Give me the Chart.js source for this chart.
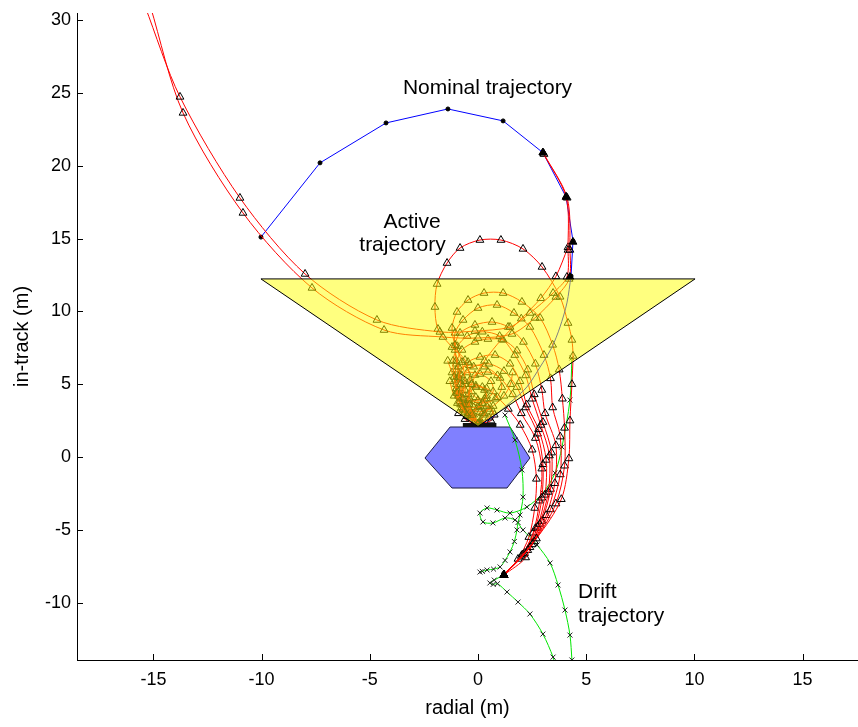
<!DOCTYPE html>
<html>
<head>
<meta charset="utf-8">
<script src="https://cdn.jsdelivr.net/npm/chart.js@4.4.0/dist/chart.umd.min.js"></script>
<style>
    html, body { margin: 0; padding: 0; background: #fff; overflow: hidden; }
    canvas { display: block; }
</style>
</head>
<body>
<canvas id="myChart" width="858" height="727"></canvas>
<script>
const xTicks = [-15, -10, -5, 0, 5, 10, 15];
const yTicks = [-10, -5, 0, 5, 10, 15, 20, 25, 30];

// approach cone, target body and docking port
const cone = [[-10.03, 12.23], [10.03, 12.23], [0, 2.1], [-10.03, 12.23]];
const hexagon = [[-2.45, -0.07], [-1.29, 2.06], [1.48, 2.06], [2.4, -0.07], [1.34, -2.13], [-1.2, -2.13], [-2.45, -0.07]];
const dockPort = [[-0.7, 2.2], [0.85, 2.2]];

// nominal trajectory (waypoints + final approach)
const nominal = [[-10.03, 15.1], [-7.3, 20.2], [-4.25, 22.94], [-1.39, 23.9], [1.16, 23.08], [3.0, 20.9], [4.07, 17.86], [4.39, 14.84], [4.3, 12.43]];
const nominalApproach = [[4.3, 12.43], [4.11, 10.58], [3.79, 8.93], [3.42, 7.55], [2.87, 6.18], [2.26, 4.81], [1.62, 3.91], [0.79, 2.88], [0.09, 2.2]];

// active trajectories
const activeA1 = [[-15.4, 31.0], [-13.77, 24.73], [-11.0, 17.79], [-7.99, 12.57], [-4.67, 9.41], [-1.76, 8.59], [-0.14, 8.65], [1.48, 8.93], [2.4, 9.89], [3.47, 11.26], [4.11, 12.36], [4.16, 14.22], [4.07, 17.86], [3.0, 20.9]];
const activeA2 = [[-15.15, 31.0], [-13.63, 23.63], [-10.86, 16.76], [-7.67, 11.61], [-4.34, 8.72], [-1.62, 8.24], [0.0, 8.17], [1.57, 8.45], [2.63, 9.55], [3.6, 10.99], [4.21, 12.23], [4.25, 14.22], [4.12, 17.8], [3.05, 20.8]];
const activeD1 = [[4.16, 14.4], [3.6, 12.4], [2.9, 10.9], [2.0, 9.5], [1.1, 8.1], [0.3, 6.6], [-0.3, 5.0], [-0.4, 3.6], [0, 2.3]];
const activeR8 = [[1.2, -8.1], [2.7, -5.6], [3.85, -2.9], [4.2, -0.1], [4.25, 2.5], [4.34, 5.0], [4.39, 6.94], [4.34, 8.04], [4.16, 9.2], [3.79, 11.0], [2.96, 13.05], [2.08, 14.29], [1.06, 14.9], [0.09, 14.9], [-0.83, 14.35], [-1.43, 13.32], [-1.89, 11.88], [-1.99, 10.3], [-1.85, 8.79], [-1.2, 7.55], [-0.6, 6.66], [-0.37, 5.3], [-0.46, 3.9], [-0.28, 2.88], [0, 2.3]];
const activeR7 = [[1.2, -8.1], [2.6, -5.8], [3.6, -3.2], [4.0, -0.6], [4.0, 2.0], [3.9, 4.0], [3.75, 6.0], [3.45, 7.7], [2.87, 9.55], [2.03, 10.65], [1.16, 11.26], [0.28, 11.26], [-0.46, 10.78], [-0.97, 9.96], [-1.2, 8.86], [-1.06, 7.69], [-0.74, 6.52], [-0.6, 5.2], [-0.7, 4.0], [-0.4, 3.0], [0, 2.3]];
const activeR6 = [[1.2, -8.1], [2.5, -6.0], [3.35, -3.6], [3.8, -1.2], [3.8, 1.4], [3.45, 3.4], [3.35, 5.4], [3.05, 7.0], [2.4, 8.93], [1.66, 9.89], [0.88, 10.44], [0.0, 10.23], [-0.69, 9.41], [-1.06, 8.52], [-1.06, 7.35], [-0.9, 6.2], [-0.8, 5.0], [-0.85, 3.8], [-0.5, 2.9], [0.05, 2.3]];
const activeR5 = [[1.2, -8.1], [2.4, -6.2], [3.15, -4.0], [3.55, -1.8], [3.6, 0.8], [3.1, 3.0], [2.95, 4.6], [2.65, 6.4], [2.1, 7.9], [1.39, 8.93], [0.65, 9.27], [-0.14, 9.07], [-0.83, 8.52], [-1.06, 7.69], [-1.0, 6.6], [-0.9, 5.5], [-0.95, 4.4], [-0.7, 3.3], [-0.1, 2.3]];
const activeR4b = [[1.2, -8.1], [2.2, -6.9], [2.85, -4.6], [3.25, -2.4], [3.3, 0.1], [2.9, 2.2], [2.5, 4.0], [2.2, 5.6], [1.7, 7.0], [1.0, 8.3], [0.2, 8.6], [-0.5, 8.3], [-0.95, 7.6], [-1.15, 6.6], [-1.1, 5.5], [-1.0, 4.4], [-0.75, 3.4], [-0.2, 2.3]];
const activeR4 = [[1.2, -8.1], [2.3, -6.4], [2.95, -4.4], [3.35, -2.2], [3.4, 0.3], [3.0, 2.4], [2.6, 4.3], [2.3, 6.0], [1.8, 7.3], [1.16, 8.04], [0.46, 8.1], [-0.14, 7.9], [-0.74, 7.35], [-1.0, 6.4], [-1.05, 5.3], [-0.9, 4.2], [-0.6, 3.1], [0, 2.3]];
const activeR3 = [[1.2, -8.1], [2.15, -6.6], [2.75, -4.8], [3.1, -2.6], [3.15, -0.2], [2.8, 1.9], [2.25, 3.6], [1.94, 5.2], [1.48, 6.4], [0.79, 7.0], [0.09, 6.87], [-0.46, 6.52], [-0.85, 5.7], [-1.0, 4.7], [-0.8, 3.6], [-0.35, 2.7], [0.05, 2.3]];
const activeR2b = [[1.2, -8.1], [2.05, -6.7], [2.65, -4.9], [2.95, -2.8], [3.0, -0.5], [2.75, 1.6], [2.2, 3.4], [1.8, 4.8], [1.2, 5.9], [0.5, 6.4], [-0.2, 6.2], [-0.75, 5.6], [-1.0, 4.7], [-0.95, 3.7], [-0.5, 2.8], [0.05, 2.3]];
const activeR2 = [[1.2, -8.1], [2.0, -6.8], [2.55, -5.2], [2.85, -3.0], [2.95, -0.8], [2.65, 1.3], [2.0, 3.0], [1.6, 4.3], [1.02, 5.43], [0.46, 5.84], [-0.14, 5.63], [-0.6, 5.0], [-0.8, 4.1], [-0.6, 3.2], [0, 2.3]];
const activeR1 = [[1.2, -8.1], [1.85, -7.0], [2.35, -5.5], [2.62, -3.5], [2.7, -1.5], [2.5, 0.5], [1.95, 2.2], [1.4, 3.3], [0.9, 4.1], [0.4, 4.7], [-0.1, 4.8], [-0.45, 4.3], [-0.5, 3.6], [-0.3, 2.9], [0, 2.3]];
const knot1 = [[-1.0, 6.0], [-0.4, 6.3], [0.3, 6.2], [0.9, 5.6], [1.1, 4.8], [0.8, 4.0], [0.2, 3.7], [-0.4, 4.0], [-0.6, 4.6], [-0.3, 5.0], [0.2, 4.8], [0.4, 4.2], [0.1, 3.5], [-0.3, 3.0], [0, 2.3]];
const knot2 = [[-1.3, 5.2], [-1.1, 4.2], [-0.7, 3.6], [-0.2, 3.4], [0.4, 3.5], [0.7, 3.1], [0.5, 2.7], [0.1, 2.3]];
const knot3 = [[-0.9, 3.0], [-0.6, 3.6], [0.0, 3.9], [0.5, 3.6], [0.3, 2.9], [0.0, 2.3]];
const knot4 = [[-0.9, 5.4], [-0.5, 5.8], [0.1, 5.7], [0.6, 5.2], [0.7, 4.5], [0.4, 4.0], [-0.1, 4.1], [-0.3, 4.5], [-0.1, 4.9], [0.3, 4.6], [0.3, 4.0], [0.0, 3.4], [-0.2, 2.9], [0.1, 2.4]];
const knot5 = [[-0.7, 4.9], [-0.8, 4.3], [-0.75, 3.7], [-0.4, 3.3], [0.1, 3.1], [0.5, 3.3], [0.75, 2.9], [0.6, 2.5], [0.2, 2.3]];
const knot6 = [[1.6, 5.8], [1.5, 5.0], [1.2, 4.2], [0.7, 3.5], [0.2, 3.0], [-0.3, 2.8], [-0.6, 2.6], [-0.2, 2.3]];
const knot7 = [[-1.4, 6.6], [-1.2, 5.8], [-1.0, 5.0], [-0.7, 4.3], [-0.4, 3.8], [0.0, 3.5], [0.3, 3.0], [0.1, 2.5]];
const overlapMarks = [[3.0, 20.9], [4.07, 17.86], [4.39, 14.77], [4.25, 12.36], [1.2, -8.1]];

// drift trajectories
const drift1 = [[4.34, 6.8], [4.25, 3.91], [3.88, 0.69], [3.56, -1.1], [3.0, -2.47], [2.26, -3.43], [1.48, -3.85], [0.88, -3.64], [0.42, -3.5], [0.09, -3.85], [0.23, -4.46], [0.69, -4.53], [1.25, -4.19], [1.71, -4.33], [2.08, -5.01], [2.73, -6.04], [3.33, -7.28], [3.7, -8.79], [4.02, -10.51], [4.25, -12.23], [4.34, -13.94], [4.36, -14.6]];
const drift2 = [[1.25, 2.88], [1.71, 1.17], [2.03, -0.89], [2.08, -2.75], [1.94, -3.98], [1.85, -4.5], [1.8, -5.01], [1.68, -5.8], [1.48, -6.52], [1.25, -7.1], [1.02, -7.55], [0.72, -7.7], [0.42, -7.76], [0.2, -7.85], [0.09, -7.9]];
const drift3 = [[1.2, -8.1], [0.75, -8.45], [0.55, -8.65], [0.7, -8.75], [0.9, -8.7], [1.34, -9.27], [1.85, -9.96], [2.4, -10.78], [3.0, -12.16], [3.47, -13.74], [3.6, -14.5]];

const notes = [
    { text: 'Nominal trajectory', x: -3.47, y: 24.93, align: 'left' },
    { text: 'Active', x: -3.05, y: 15.73, align: 'center' },
    { text: 'trajectory', x: -3.49, y: 14.15, align: 'center' },
    { text: 'Drift', x: 4.62, y: -9.68, align: 'left' },
    { text: 'trajectory', x: 4.62, y: -11.33, align: 'left' }
];

const FONT = '"Liberation Sans", Arial, sans-serif';

function pts(arr) {
    return arr.map(p => ({ x: p[0], y: p[1] }));
}

function active(arr) {
    return {
        data: pts(arr),
        showLine: true,
        borderColor: '#ff0000',
        borderWidth: 1,
        tension: 0.3,
        pointStyle: 'triangle',
        pointRadius: 4.5,
        pointBorderColor: '#000',
        pointBackgroundColor: 'rgba(0,0,0,0)',
        pointBorderWidth: 1,
        clip: 0
    };
}

function drift(arr) {
    return {
        data: pts(arr),
        showLine: true,
        borderColor: '#00e600',
        borderWidth: 1,
        tension: 0.3,
        pointStyle: 'crossRot',
        pointRadius: 3.5,
        pointBorderColor: '#222',
        pointBorderWidth: 1,
        clip: 0
    };
}

const axisExtras = {
    id: 'axisExtras',
    afterDraw(chart) {
        const ctx = chart.ctx;
        const xs = chart.scales.x;
        const ys = chart.scales.y;
        ctx.save();
        ctx.strokeStyle = '#000';
        ctx.lineWidth = 1;
        ctx.beginPath();
        xTicks.forEach(v => {
            const px = Math.round(xs.getPixelForValue(v)) + 0.5;
            ctx.moveTo(px, ys.bottom);
            ctx.lineTo(px, ys.bottom - 6);
        });
        yTicks.forEach(v => {
            const py = Math.round(ys.getPixelForValue(v)) + 0.5;
            ctx.moveTo(xs.left, py);
            ctx.lineTo(xs.left + 6, py);
        });
        ctx.stroke();

        ctx.fillStyle = '#000';
        ctx.font = '21px ' + FONT;
        ctx.textBaseline = 'alphabetic';
        notes.forEach(n => {
            ctx.textAlign = n.align;
            ctx.fillText(n.text, xs.getPixelForValue(n.x), ys.getPixelForValue(n.y));
        });
        ctx.restore();
    }
};

const ctx = document.getElementById('myChart').getContext('2d');
new Chart(ctx, {
    type: 'scatter',
    data: {
        datasets: [
            {
                data: pts(cone),
                showLine: true,
                fill: 'shape',
                backgroundColor: 'rgba(255,255,0,0.5)',
                borderColor: '#000',
                borderWidth: 1,
                tension: 0,
                pointRadius: 0
            },
            {
                data: pts(overlapMarks),
                showLine: false,
                pointStyle: 'triangle',
                pointRadius: 4.5,
                pointBackgroundColor: '#000',
                pointBorderColor: '#000',
                clip: 0
            },
            {
                data: pts(dockPort),
                showLine: true,
                borderColor: '#111',
                borderWidth: 4,
                pointRadius: 0,
                clip: 0
            },
            {
                data: pts(nominalApproach),
                showLine: true,
                borderColor: '#0000ff',
                borderWidth: 1,
                tension: 0.3,
                pointRadius: 0,
                clip: 0
            },
            active(activeA1),
            active(activeA2),
            active(activeD1),
            active(activeR8),
            active(activeR7),
            active(activeR6),
            active(activeR5),
            active(activeR4b),
            active(activeR4),
            active(activeR3),
            active(activeR2b),
            active(activeR2),
            active(activeR1),
            active(knot1),
            active(knot2),
            active(knot3),
            active(knot4),
            active(knot5),
            active(knot6),
            active(knot7),
            drift(drift1),
            drift(drift2),
            drift(drift3),
            {
                data: pts(nominal),
                showLine: true,
                borderColor: '#0000ff',
                borderWidth: 1,
                tension: 0,
                pointStyle: 'circle',
                pointRadius: 2,
                pointBackgroundColor: '#000',
                pointBorderColor: '#000',
                clip: 0
            },
            {
                data: pts(hexagon),
                showLine: true,
                fill: 'shape',
                backgroundColor: '#8080ff',
                borderColor: '#1a1a40',
                borderWidth: 1,
                tension: 0,
                pointRadius: 0
            }
        ]
    },
    options: {
        responsive: false,
        animation: false,
        events: [],
        layout: { autoPadding: false, padding: { top: 13, left: 0, right: 0, bottom: 0 } },
        plugins: {
            legend: { display: false },
            tooltip: { enabled: false }
        },
        scales: {
            x: {
                type: 'linear',
                min: -18.53,
                max: 17.56,
                afterBuildTicks: (scale) => { scale.ticks = xTicks.map(v => ({ value: v })); },
                afterFit: (scale) => {
                    scale.height = 67;
                    scale.paddingLeft = 0;
                    scale.paddingRight = 0;
                },
                grid: { drawOnChartArea: false, drawTicks: false },
                border: { color: '#000', width: 1 },
                ticks: { color: '#000', padding: 9, font: { family: FONT, size: 18 } },
                title: {
                    display: true,
                    text: 'radial (m)',
                    color: '#000',
                    padding: { top: 0, bottom: 7 },
                    font: { family: FONT, size: 20 }
                }
            },
            y: {
                type: 'linear',
                min: -13.94,
                max: 30.49,
                afterBuildTicks: (scale) => { scale.ticks = yTicks.map(v => ({ value: v })); },
                afterFit: (scale) => {
                    scale.width = 77;
                    scale.paddingTop = 0;
                    scale.paddingBottom = 0;
                },
                grid: { drawOnChartArea: false, drawTicks: false },
                border: { color: '#000', width: 1 },
                ticks: { color: '#000', padding: 6, font: { family: FONT, size: 18 } },
                title: {
                    display: true,
                    text: 'in-track (m)',
                    color: '#000',
                    padding: { top: 10, bottom: 0 },
                    font: { family: FONT, size: 20 }
                }
            }
        }
    },
    plugins: [axisExtras]
});
</script>
</body>
</html>
